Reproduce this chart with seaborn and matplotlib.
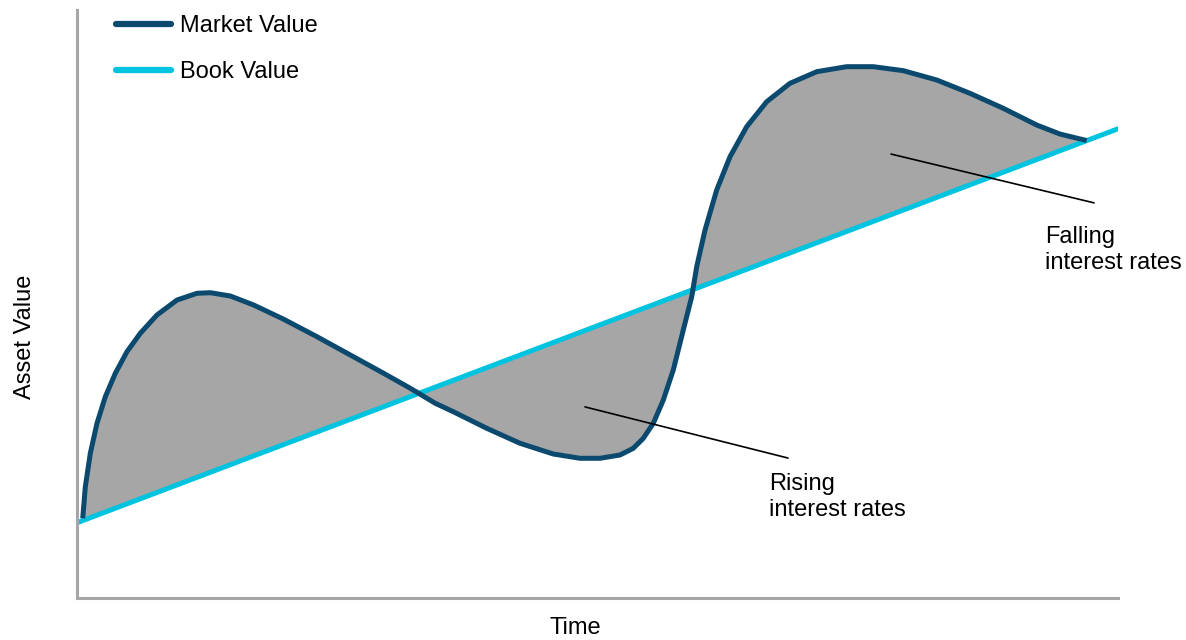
import numpy as np
import pandas as pd
import matplotlib
matplotlib.use("Agg")
import matplotlib.pyplot as plt
import seaborn as sns

# Time axis (arbitrary units) and market value of the asset
time = [0.55, 0.80, 1.28, 1.92, 2.72, 3.68, 4.80, 6.08, 7.68, 9.61, 11.53, 12.81,
        14.73, 16.97, 19.86, 23.05, 26.25, 29.46, 32.02, 34.42, 36.15, 39.36, 42.56,
        45.75, 48.32, 50.24, 52.16, 53.44, 54.40, 55.36, 56.32, 57.28, 58.24, 59.05,
        59.53, 60.33, 61.45, 62.73, 64.33, 66.25, 68.49, 71.06, 73.94, 76.49, 79.38,
        82.58, 85.78, 88.98, 92.19, 94.43, 96.99]
market_value = [13.55, 18.93, 24.61, 29.71, 34.23, 38.21, 41.89, 45.02, 48.13, 50.68,
                51.82, 51.92, 51.36, 49.83, 47.40, 44.44, 41.33, 38.21, 35.66, 33.11,
                31.68, 28.86, 26.31, 24.49, 23.76, 23.76, 24.32, 25.46, 27.16, 29.71,
                33.67, 38.78, 45.58, 51.24, 56.34, 62.59, 69.39, 75.05, 80.15, 84.40,
                87.53, 89.51, 90.36, 90.36, 89.68, 88.10, 85.83, 83.28, 80.44, 78.90,
                77.80]

# Book value grows linearly between its start and end
book_time = [0.0, 100.0]
book_value = [12.8, 79.8]

labels = ["Market Value", "Book Value"]
notes = ["Rising\ninterest rates", "Falling\ninterest rates"]

MARKET_COLOR = "#0B4A6E"
BOOK_COLOR = "#00C3DF"
FILL_COLOR = "#A6A6A6"
SPINE_COLOR = "#A6A6A6"
FS = 17

sns.set_style("white")
plt.rcParams["font.family"] = ["Liberation Sans", "DejaVu Sans"]
plt.rcParams["text.color"] = "black"

fig = plt.figure(figsize=(11.86, 6.4), dpi=100)
ax = fig.add_axes([77 / 1186, 42 / 640, 1041 / 1186, 588 / 640])

market = pd.DataFrame({"time": time, "value": market_value})
book = pd.DataFrame({"time": book_time, "value": book_value})

# Gap between market and book value
book_on_market = np.interp(time, book_time, book_value)
ax.fill_between(time, market_value, book_on_market, color=FILL_COLOR, linewidth=0, zorder=1)

sns.lineplot(data=market, x="time", y="value", ax=ax, color=MARKET_COLOR,
             linewidth=3.6, label=labels[0], zorder=3, solid_capstyle="butt",
             solid_joinstyle="round")
sns.lineplot(data=book, x="time", y="value", ax=ax, color=BOOK_COLOR,
             linewidth=3.6, label=labels[1], zorder=2, solid_capstyle="round")

ax.set_xlim(0, 100)
ax.set_ylim(0, 100)
ax.set_xticks([])
ax.set_yticks([])
ax.set_xlabel("")
ax.set_ylabel("")
for side in ["top", "right"]:
    ax.spines[side].set_visible(False)
for side in ["left", "bottom"]:
    ax.spines[side].set_color(SPINE_COLOR)
    ax.spines[side].set_linewidth(2.2)

# Leader lines and their notes
ax.plot([48.8, 68.3], [32.5, 23.8], color="black", lw=1.2, zorder=4)
ax.plot([78.2, 97.7], [75.5, 67.2], color="black", lw=1.2, zorder=4)
ax.text(66.5, 17.2, notes[0], fontsize=FS, ha="left", va="center",
        linespacing=1.2, color="black")
ax.text(93.0, 59.2, notes[1], fontsize=FS, ha="left", va="center",
        linespacing=1.2, color="black", clip_on=False)

leg = ax.legend(loc="upper left", bbox_to_anchor=(0.017, 1.027), frameon=False,
                fontsize=FS, handlelength=2.35, handletextpad=0.36,
                labelspacing=1.0)
for line in leg.get_lines():
    line.set_linewidth(4.5)
    line.set_solid_capstyle("round")
for txt in leg.get_texts():
    txt.set_color("black")

fig.text(575 / 1186, 12 / 640, "Time", ha="center", va="center", fontsize=FS,
         color="black")
fig.text(25 / 1186, 303 / 640, "Asset Value", ha="center", va="center",
         rotation=90, fontsize=FS, color="black")

fig.savefig("out.png", dpi=100, facecolor="white")
